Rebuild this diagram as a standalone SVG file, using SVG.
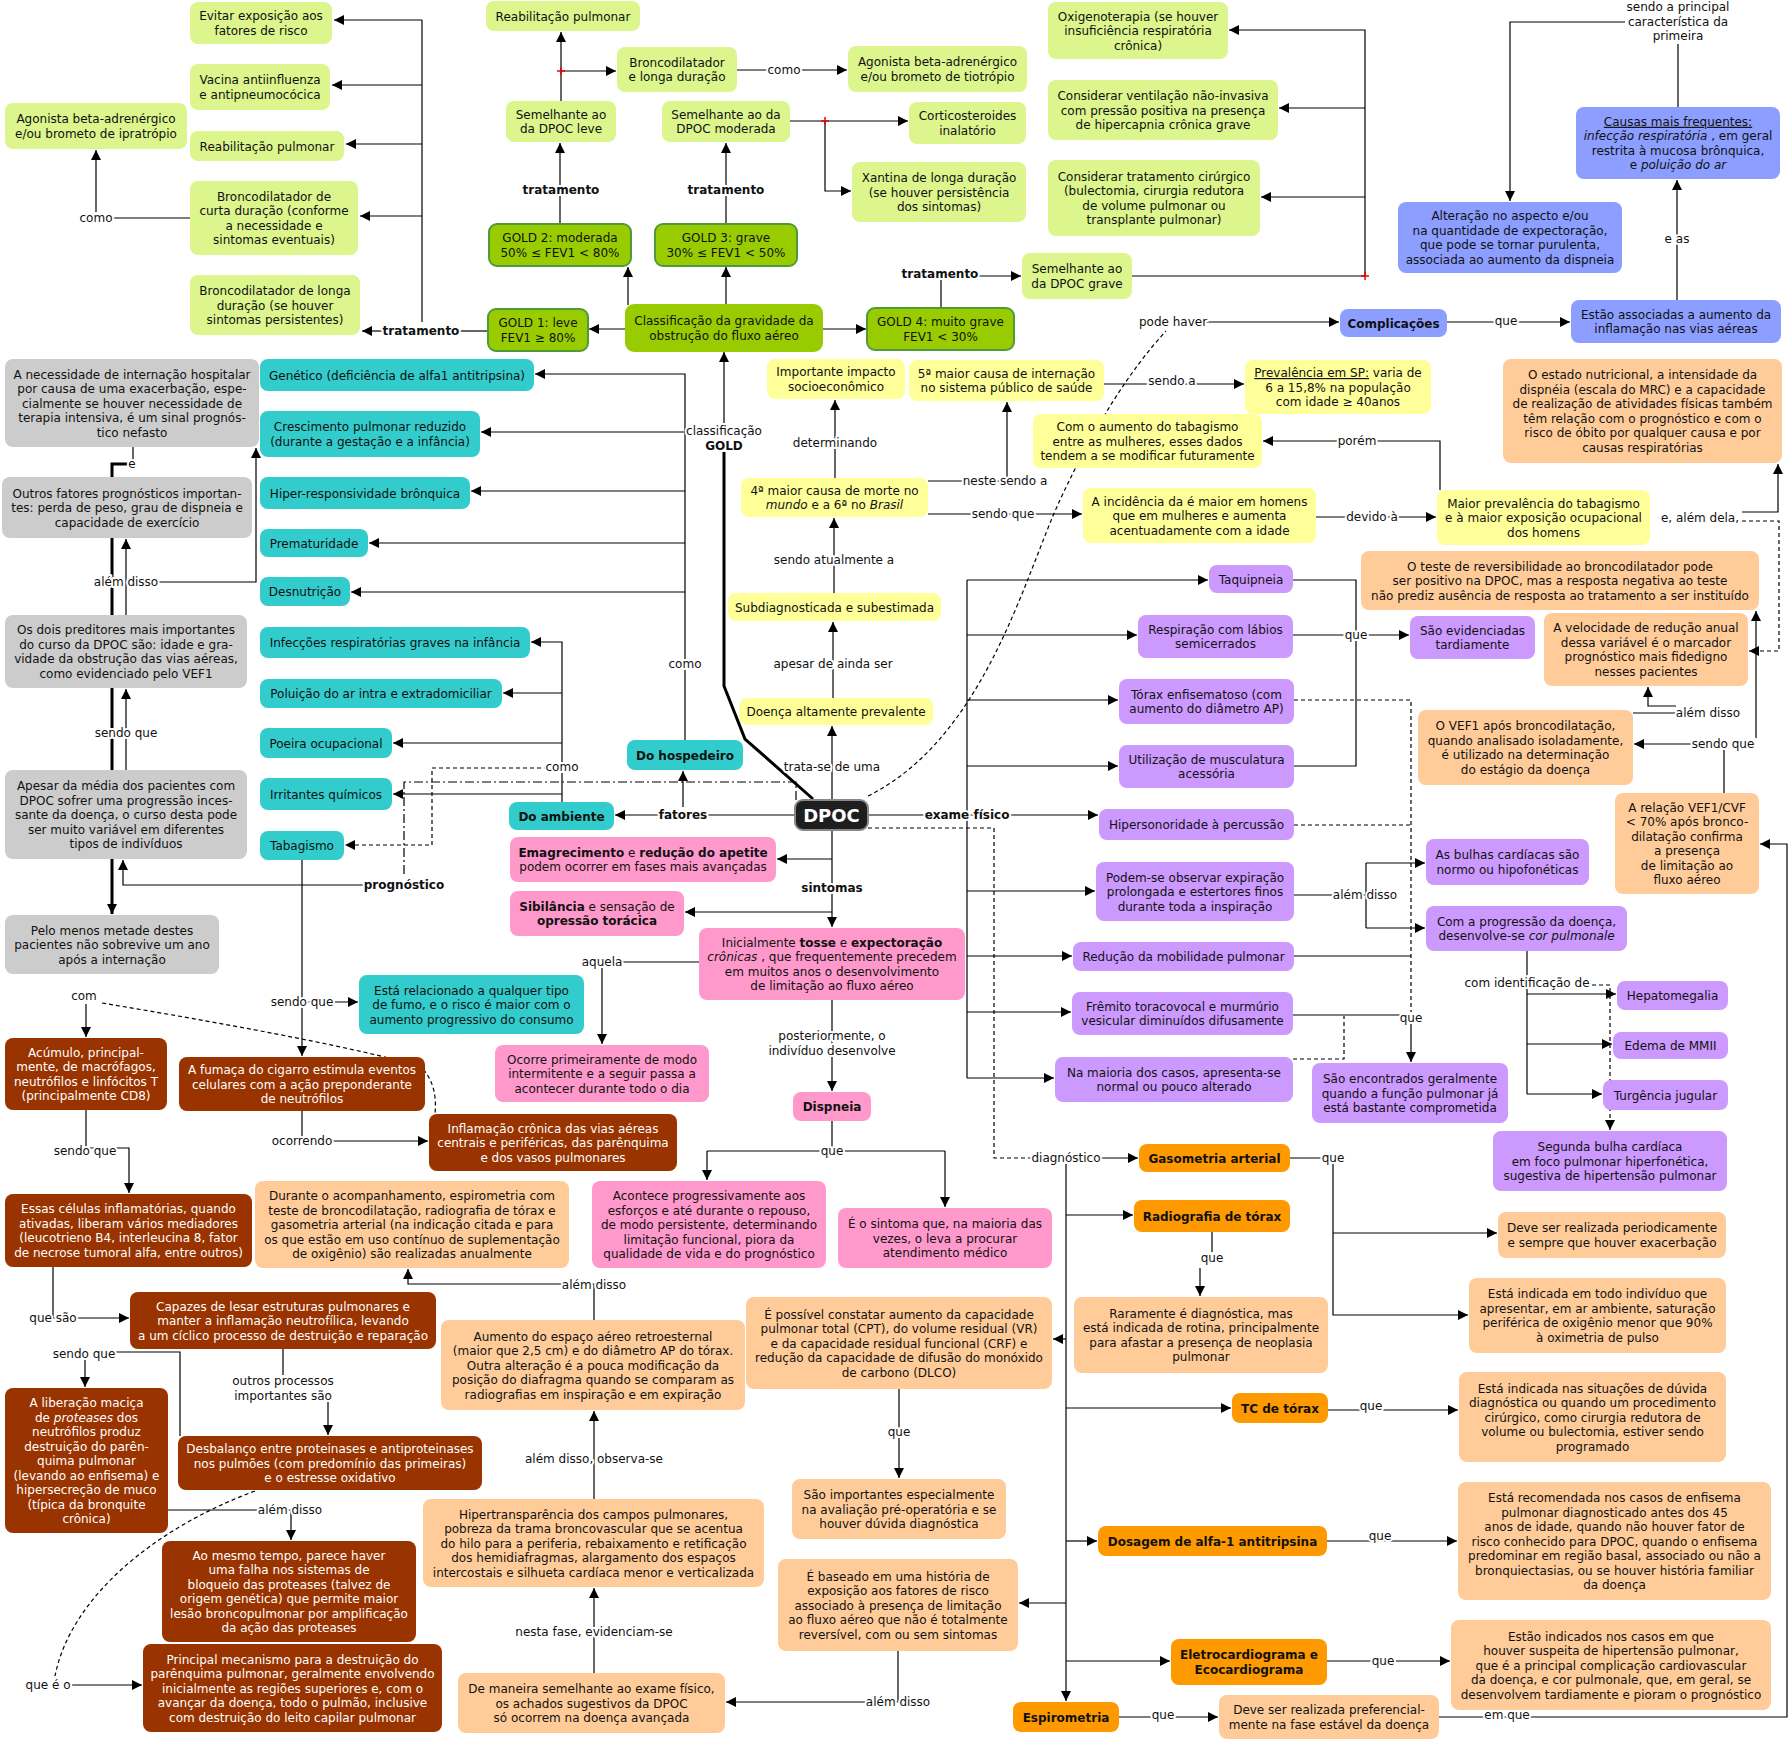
<svg xmlns="http://www.w3.org/2000/svg" width="1790" height="1740" viewBox="0 0 1790 1740">
<style>
.lg{fill:#dcf58c}.dg{fill:#99cc00;stroke:#4e9a3a;stroke-width:2}.tl{fill:#33cccc}.gr{fill:#cccccc}.ye{fill:#ffff99}.pu{fill:#cc99ff}.bl{fill:#8c9eff}.pk{fill:#ff99cc}.pe{fill:#ffcc99}.or{fill:#ff9900}.br{fill:#993300}.dk{fill:#1e1e1e;stroke:#888;stroke-width:2}
.t{font-family:"DejaVu Sans",Verdana,sans-serif;font-size:12px;text-anchor:middle;fill:#111}
.w{fill:#fff}.b{font-weight:bold}.i{font-style:italic}.u{text-decoration:underline}
.lb{font-family:"DejaVu Sans",Verdana,sans-serif;font-size:12px;text-anchor:middle;fill:#111;paint-order:stroke;stroke:#fff;stroke-width:4px;stroke-linejoin:round}
.c path{fill:none;stroke:#000;stroke-width:1.2}
.c .ar{marker-end:url(#a)}
.c .d{stroke-dasharray:4 3}
.c .dd{stroke-dasharray:9 3 2 3}
.c .th{stroke-width:3}
.c .rp{stroke:#e00;stroke-width:1.5}
</style>
<defs>
<marker id="a" markerWidth="11" markerHeight="10" refX="10" refY="5" orient="auto" markerUnits="userSpaceOnUse"><path d="M0,0L10,5L0,10z" fill="#000"/></marker>
</defs>
<rect width="1790" height="1740" fill="#fff"/>
<g id="connectors" class="c">
<path d="M128,464 H112 V914" class="th ar"/>
<path d="M422,20 V322"/>
<path d="M422,20 H334" class="ar"/>
<path d="M422,85 H332" class="ar"/>
<path d="M422,144 H346" class="ar"/>
<path d="M422,216 H360" class="ar"/>
<path d="M383,331 H362" class="ar"/>
<path d="M460,331 H488"/>
<path d="M190,218 H112"/>
<path d="M96,212 V150" class="ar"/>
<path d="M561,101 V32" class="ar"/>
<path d="M561,71 H616" class="ar"/>
<path d="M737,70 H847" class="ar"/>
<path d="M560,224 V143" class="ar"/>
<path d="M726,224 V143" class="ar"/>
<path d="M790,121 H908" class="ar"/>
<path d="M825,121 V191 H851" class="ar"/>
<path d="M628,305 V267" class="ar"/>
<path d="M726,305 V267" class="ar"/>
<path d="M626,329 H589" class="ar"/>
<path d="M822,329 H866" class="ar"/>
<path d="M941,308 V276 H1021" class="ar"/>
<path d="M1132,276 H1365 V30 H1229" class="ar"/>
<path d="M1365,108 H1279" class="ar"/>
<path d="M1365,197 H1261" class="ar"/>
<path d="M557,71 H565 M561,67 V75" class="rp"/>
<path d="M821,121 H829 M825,117 V125" class="rp"/>
<path d="M1361,276 H1369 M1365,272 V280" class="rp"/>
<path d="M724,425 V352" class="ar"/>
<path d="M724,452 V686 L745,739 L813,799" class="th"/>
<path d="M832,800 V726" class="ar"/>
<path d="M833,698 V622" class="ar"/>
<path d="M834,593 V518" class="ar"/>
<path d="M835,478 V400" class="ar"/>
<path d="M928,481 H1007 V402" class="ar"/>
<path d="M928,514 H1082" class="ar"/>
<path d="M1104,384 H1244" class="ar"/>
<path d="M1316,517 H1436" class="ar"/>
<path d="M1440,490 V441 H1263" class="ar"/>
<path d="M1742,512 H1778 V464" class="ar"/>
<path d="M1742,521 H1779 V651 H1749" class="d ar"/>
<path d="M1200,322 H1339" class="ar"/>
<path d="M1447,322 H1570" class="ar"/>
<path d="M1677,300 V180" class="ar"/>
<path d="M1678,107 V44"/>
<path d="M1625,22 H1510 V201" class="ar"/>
<path d="M868,796 C985,738 1025,575 1060,500 S1130,370 1166,331" class="d"/>
<path d="M1633,713 H1680"/>
<path d="M1676,706 H1648 V687" class="ar"/>
<path d="M1724,793 V744 H1634" class="ar"/>
<path d="M1756,738 V611" class="ar"/>
<path d="M1439,1717 H1787 V844 H1760" class="ar"/>
<path d="M868,815 H1098" class="ar"/>
<path d="M967,580 V1078"/>
<path d="M967,580 H1208" class="ar"/>
<path d="M967,635 H1137" class="ar"/>
<path d="M967,700 H1118" class="ar"/>
<path d="M967,766 H1118" class="ar"/>
<path d="M967,891 H1095" class="ar"/>
<path d="M967,956 H1072" class="ar"/>
<path d="M967,1012 H1071" class="ar"/>
<path d="M967,1078 H1054" class="ar"/>
<path d="M1293,580 H1356 V766 H1294"/>
<path d="M1293,635 H1409" class="ar"/>
<path d="M1294,700 H1411 V1012" class="d"/>
<path d="M1294,825 H1411" class="d"/>
<path d="M1294,956 H1411"/>
<path d="M1293,1015 H1411 V1062" class="ar"/>
<path d="M1293,1059 H1344 V1016" class="d"/>
<path d="M1294,895 H1366"/>
<path d="M1366,863 V928"/>
<path d="M1366,863 H1425" class="ar"/>
<path d="M1366,928 H1425" class="ar"/>
<path d="M1527,951 V1094"/>
<path d="M1527,994 H1616" class="ar"/>
<path d="M1527,1044 H1612" class="ar"/>
<path d="M1527,1094 H1602" class="ar"/>
<path d="M1585,985 H1610 V1130" class="d ar"/>
<path d="M795,815 H615" class="ar"/>
<path d="M683,807 V771" class="ar"/>
<path d="M685,740 V374 H535" class="ar"/>
<path d="M685,432 H481" class="ar"/>
<path d="M685,491 H471" class="ar"/>
<path d="M685,543 H369" class="ar"/>
<path d="M685,592 H351" class="ar"/>
<path d="M562,802 V642 H531" class="ar"/>
<path d="M562,693 H503" class="ar"/>
<path d="M562,743 H393" class="ar"/>
<path d="M562,794 H393" class="ar"/>
<path d="M548,768 H432 V845 H345" class="d ar"/>
<path d="M796,800 V782 H404 V876" class="dd"/>
<path d="M366,885 H123 V860" class="ar"/>
<path d="M302,860 V1056" class="ar"/>
<path d="M302,1002 H358" class="ar"/>
<path d="M302,1111 V1141 H428" class="ar"/>
<path d="M102,1003 Q330,1041 420,1066 Q438,1083 435,1114" class="d"/>
<path d="M86,1004 V1037" class="ar"/>
<path d="M86,1110 V1148 H129 V1193" class="ar"/>
<path d="M53,1267 V1318 H129" class="ar"/>
<path d="M85,1360 V1387" class="ar"/>
<path d="M115,1352 H180 V1436"/>
<path d="M283,1349 V1375"/>
<path d="M328,1402 V1435" class="ar"/>
<path d="M168,1510 H291 V1540" class="ar"/>
<path d="M72,1685 H142" class="ar"/>
<path d="M255,1491 C150,1530 70,1600 55,1676" class="d"/>
<path d="M594,1320 V1284 H408 V1269" class="ar"/>
<path d="M594,1499 V1411" class="ar"/>
<path d="M594,1673 V1588" class="ar"/>
<path d="M898,1651 V1702 H726" class="ar"/>
<path d="M133,447 V464"/>
<path d="M126,615 V539" class="ar"/>
<path d="M158,582 H256 V448" class="ar"/>
<path d="M126,770 V689" class="ar"/>
<path d="M832,830 V927" class="ar"/>
<path d="M832,859 H777" class="ar"/>
<path d="M832,912 H685" class="ar"/>
<path d="M699,962 H602 V1044" class="ar"/>
<path d="M832,1000 V1091" class="ar"/>
<path d="M832,1121 V1151"/>
<path d="M707,1151 H945"/>
<path d="M707,1151 V1180" class="ar"/>
<path d="M945,1151 V1207" class="ar"/>
<path d="M868,828 H994 V1158 H1033" class="d"/>
<path d="M1099,1158 H1138" class="ar"/>
<path d="M1066,1164 V1701" class="ar"/>
<path d="M1066,1215 H1133" class="ar"/>
<path d="M1066,1339 H1053" class="ar"/>
<path d="M1066,1408 H1231" class="ar"/>
<path d="M1066,1541 H1097" class="ar"/>
<path d="M1066,1603 H1019" class="ar"/>
<path d="M1066,1661 H1170" class="ar"/>
<path d="M1290,1158 H1333 V1315 H1468" class="ar"/>
<path d="M1333,1233 H1497" class="ar"/>
<path d="M1212,1232 V1252"/>
<path d="M1200,1268 V1296" class="ar"/>
<path d="M899,1389 V1478" class="ar"/>
<path d="M1328,1410 H1458" class="ar"/>
<path d="M1327,1541 H1457" class="ar"/>
<path d="M1327,1661 H1450" class="ar"/>
<path d="M1119,1717 H1218" class="ar"/>
</g>
<g id="labels">
<text class="lb" x="96" y="222">como</text>
<text class="lb b" x="421" y="335">tratamento</text>
<text class="lb" x="784" y="74">como</text>
<text class="lb b" x="561" y="194">tratamento</text>
<text class="lb b" x="726" y="194">tratamento</text>
<text class="lb b" x="940" y="278">tratamento</text>
<text class="lb" x="724" y="435">classificação</text>
<text class="lb b" x="724" y="450">GOLD</text>
<text class="lb" x="835" y="447">determinando</text>
<text class="lb" x="1005" y="485">neste sendo a</text>
<text class="lb" x="1003" y="518">sendo que</text>
<text class="lb" x="834" y="564">sendo atualmente a</text>
<text class="lb" x="833" y="668">apesar de ainda ser</text>
<text class="lb" x="832" y="771">trata-se de uma</text>
<text class="lb" x="1172" y="385">sendo a</text>
<text class="lb" x="1357" y="445">porém</text>
<text class="lb" x="1372" y="521">devido à</text>
<text class="lb" x="1700" y="522">e, além dela,</text>
<text class="lb" x="1173" y="326">pode haver</text>
<text class="lb" x="1506" y="325">que</text>
<text class="lb" x="1677" y="243">e as</text>
<text class="lb" x="1678" y="11">sendo a principal</text>
<text class="lb" x="1678" y="25.5">característica da</text>
<text class="lb" x="1678" y="40">primeira</text>
<text class="lb" x="1708" y="717">além disso</text>
<text class="lb" x="1723" y="748">sendo que</text>
<text class="lb" x="1356" y="639">que</text>
<text class="lb" x="1365" y="899">além disso</text>
<text class="lb" x="1411" y="1022">que</text>
<text class="lb" x="1527" y="987">com identificação de</text>
<text class="lb b" x="967" y="819">exame físico</text>
<text class="lb" x="1066" y="1162">diagnóstico</text>
<text class="lb" x="1333" y="1162">que</text>
<text class="lb" x="1212" y="1262">que</text>
<text class="lb" x="899" y="1436">que</text>
<text class="lb" x="1371" y="1410">que</text>
<text class="lb" x="1380" y="1540">que</text>
<text class="lb" x="1383" y="1665">que</text>
<text class="lb" x="1163" y="1719">que</text>
<text class="lb" x="1507" y="1719">em que</text>
<text class="lb" x="898" y="1706">além disso</text>
<text class="lb b" x="832" y="892">sintomas</text>
<text class="lb" x="602" y="966">aquela</text>
<text class="lb" x="832" y="1040">posteriormente, o</text>
<text class="lb" x="832" y="1054.5">indivíduo desenvolve</text>
<text class="lb" x="832" y="1155">que</text>
<text class="lb b" x="683" y="819">fatores</text>
<text class="lb" x="685" y="668">como</text>
<text class="lb" x="562" y="771">como</text>
<text class="lb b" x="404" y="889">prognóstico</text>
<text class="lb" x="126" y="586">além disso</text>
<text class="lb" x="126" y="737">sendo que</text>
<text class="lb" x="132" y="468">e</text>
<text class="lb" x="302" y="1006">sendo que</text>
<text class="lb" x="302" y="1145">ocorrendo</text>
<text class="lb" x="84" y="1000">com</text>
<text class="lb" x="85" y="1155">sendo que</text>
<text class="lb" x="53" y="1322">que são</text>
<text class="lb" x="84" y="1358">sendo que</text>
<text class="lb" x="283" y="1385">outros processos</text>
<text class="lb" x="283" y="1399.5">importantes são</text>
<text class="lb" x="290" y="1514">além disso</text>
<text class="lb" x="48" y="1689">que é o</text>
<text class="lb" x="594" y="1289">além disso</text>
<text class="lb" x="594" y="1463">além disso, observa-se</text>
<text class="lb" x="594" y="1636">nesta fase, evidenciam-se</text>
</g>
<g id="n_evitar"><rect class="lg" x="190" y="2" width="142" height="42" rx="8"/><text class="t"><tspan x="261" y="20">Evitar exposição aos</tspan><tspan x="261" y="34.5">fatores de risco</tspan></text></g>
<g id="n_vacina"><rect class="lg" x="190" y="64" width="140" height="46" rx="8"/><text class="t"><tspan x="260" y="84.25">Vacina antiinfluenza</tspan><tspan x="260" y="98.75">e antipneumocócica</tspan></text></g>
<g id="n_agon1"><rect class="lg" x="5" y="103" width="182" height="46" rx="8"/><text class="t"><tspan x="96" y="123.25">Agonista beta-adrenérgico</tspan><tspan x="96" y="137.75">e/ou brometo de ipratrópio</tspan></text></g>
<g id="n_reab1"><rect class="lg" x="190" y="131" width="154" height="30" rx="8"/><text class="t"><tspan x="267" y="150.5">Reabilitação pulmonar</tspan></text></g>
<g id="n_bcurta"><rect class="lg" x="190" y="181" width="168" height="74" rx="8"/><text class="t"><tspan x="274" y="200.75">Broncodilatador de</tspan><tspan x="274" y="215.25">curta duração (conforme</tspan><tspan x="274" y="229.75">a necessidade e</tspan><tspan x="274" y="244.25">sintomas eventuais)</tspan></text></g>
<g id="n_blonga"><rect class="lg" x="190" y="275" width="170" height="60" rx="8"/><text class="t"><tspan x="275" y="295">Broncodilatador de longa</tspan><tspan x="275" y="309.5">duração (se houver</tspan><tspan x="275" y="324">sintomas persistentes)</tspan></text></g>
<g id="n_reab2"><rect class="lg" x="486" y="1" width="154" height="30" rx="8"/><text class="t"><tspan x="563" y="20.5">Reabilitação pulmonar</tspan></text></g>
<g id="n_blonga2"><rect class="lg" x="617" y="47" width="120" height="45" rx="8"/><text class="t"><tspan x="677" y="66.75">Broncodilatador</tspan><tspan x="677" y="81.25">e longa duração</tspan></text></g>
<g id="n_agon2"><rect class="lg" x="848" y="46" width="179" height="46" rx="8"/><text class="t"><tspan x="937.5" y="66.25">Agonista beta-adrenérgico</tspan><tspan x="937.5" y="80.75">e/ou brometo de tiotrópio</tspan></text></g>
<g id="n_semleve"><rect class="lg" x="506" y="101" width="110" height="41" rx="8"/><text class="t"><tspan x="561" y="118.75">Semelhante ao</tspan><tspan x="561" y="133.25">da DPOC leve</tspan></text></g>
<g id="n_semmod"><rect class="lg" x="662" y="101" width="128" height="41" rx="8"/><text class="t"><tspan x="726" y="118.75">Semelhante ao da</tspan><tspan x="726" y="133.25">DPOC moderada</tspan></text></g>
<g id="n_cort"><rect class="lg" x="909" y="102" width="117" height="42" rx="8"/><text class="t"><tspan x="967.5" y="120.25">Corticosteroides</tspan><tspan x="967.5" y="134.75">inalatório</tspan></text></g>
<g id="n_xant"><rect class="lg" x="852" y="162" width="174" height="60" rx="8"/><text class="t"><tspan x="939" y="182">Xantina de longa duração</tspan><tspan x="939" y="196.5">(se houver persistência</tspan><tspan x="939" y="211">dos sintomas)</tspan></text></g>
<g id="n_gold2"><rect class="dg" x="489" y="224" width="142" height="42" rx="8"/><text class="t"><tspan x="560" y="242.25">GOLD 2: moderada</tspan><tspan x="560" y="256.75">50% ≤ FEV1 &lt; 80%</tspan></text></g>
<g id="n_gold3"><rect class="dg" x="655" y="224" width="142" height="42" rx="8"/><text class="t"><tspan x="726" y="242.25">GOLD 3: grave</tspan><tspan x="726" y="256.75">30% ≤ FEV1 &lt; 50%</tspan></text></g>
<g id="n_class"><rect class="dg" x="626" y="305" width="196" height="46" rx="8" style="stroke:#99cc00"/><text class="t"><tspan x="724" y="325.25">Classificação da gravidade da</tspan><tspan x="724" y="339.75">obstrução do fluxo aéreo</tspan></text></g>
<g id="n_gold1"><rect class="dg" x="488" y="309" width="100" height="42" rx="8"/><text class="t"><tspan x="538" y="327.25">GOLD 1: leve</tspan><tspan x="538" y="341.75">FEV1 ≥ 80%</tspan></text></g>
<g id="n_gold4"><rect class="dg" x="867" y="308" width="147" height="42" rx="8"/><text class="t"><tspan x="940.5" y="326.25">GOLD 4: muito grave</tspan><tspan x="940.5" y="340.75">FEV1 &lt; 30%</tspan></text></g>
<g id="n_semgrave"><rect class="lg" x="1022" y="253" width="110" height="46" rx="8"/><text class="t"><tspan x="1077" y="273.25">Semelhante ao</tspan><tspan x="1077" y="287.75">da DPOC grave</tspan></text></g>
<g id="n_oxig"><rect class="lg" x="1048" y="2" width="180" height="57" rx="8"/><text class="t"><tspan x="1138" y="20.5">Oxigenoterapia (se houver</tspan><tspan x="1138" y="35">insuficiência respiratória</tspan><tspan x="1138" y="49.5">crônica)</tspan></text></g>
<g id="n_vent"><rect class="lg" x="1048" y="80" width="230" height="60" rx="8"/><text class="t"><tspan x="1163" y="100">Considerar ventilação não-invasiva</tspan><tspan x="1163" y="114.5">com pressão positiva na presença</tspan><tspan x="1163" y="129">de hipercapnia crônica grave</tspan></text></g>
<g id="n_cirur"><rect class="lg" x="1048" y="160" width="212" height="76" rx="8"/><text class="t"><tspan x="1154" y="180.75">Considerar tratamento cirúrgico</tspan><tspan x="1154" y="195.25">(bulectomia, cirurgia redutora</tspan><tspan x="1154" y="209.75">de volume pulmonar ou</tspan><tspan x="1154" y="224.25">transplante pulmonar)</tspan></text></g>
<g id="n_impacto"><rect class="ye" x="767" y="359" width="138" height="40" rx="8"/><text class="t"><tspan x="836" y="376.25">Importante impacto</tspan><tspan x="836" y="390.75">socioeconômico</tspan></text></g>
<g id="n_5a"><rect class="ye" x="909" y="360" width="195" height="41" rx="8"/><text class="t"><tspan x="1006.5" y="377.75">5ª maior causa de internação</tspan><tspan x="1006.5" y="392.25">no sistema público de saúde</tspan></text></g>
<g id="n_preval"><rect class="ye" x="1245" y="360" width="186" height="54" rx="8"/><text class="t"><tspan x="1338" y="377"><tspan class="u">Prevalência em SP:</tspan> varia de</tspan><tspan x="1338" y="391.5">6 a 15,8% na população</tspan><tspan x="1338" y="406">com idade ≥ 40anos</tspan></text></g>
<g id="n_aumento"><rect class="ye" x="1033" y="414" width="229" height="54" rx="8"/><text class="t"><tspan x="1147.5" y="431">Com o aumento do tabagismo</tspan><tspan x="1147.5" y="445.5">entre as mulheres, esses dados</tspan><tspan x="1147.5" y="460">tendem a se modificar futuramente</tspan></text></g>
<g id="n_4a"><rect class="ye" x="741" y="478" width="187" height="39" rx="8"/><text class="t"><tspan x="834.5" y="494.75">4ª maior causa de morte no</tspan><tspan x="834.5" y="509.25"><tspan class="i">mundo</tspan>  e a 6ª no <tspan class="i">Brasil</tspan></tspan></text></g>
<g id="n_incid"><rect class="ye" x="1083" y="488" width="233" height="55" rx="8"/><text class="t"><tspan x="1199.5" y="505.5">A incidência da é maior em homens</tspan><tspan x="1199.5" y="520">que em mulheres e aumenta</tspan><tspan x="1199.5" y="534.5">acentuadamente com a idade</tspan></text></g>
<g id="n_maiorprev"><rect class="ye" x="1437" y="490" width="213" height="55" rx="8"/><text class="t"><tspan x="1543.5" y="507.5">Maior prevalência do tabagismo</tspan><tspan x="1543.5" y="522">e à maior exposição ocupacional</tspan><tspan x="1543.5" y="536.5">dos homens</tspan></text></g>
<g id="n_subdiag"><rect class="ye" x="728" y="593" width="213" height="28" rx="8"/><text class="t"><tspan x="834.5" y="611.5">Subdiagnosticada e subestimada</tspan></text></g>
<g id="n_doenca"><rect class="ye" x="739" y="698" width="194" height="27" rx="8"/><text class="t"><tspan x="836" y="716">Doença altamente prevalente</tspan></text></g>
<g id="n_compl"><rect class="bl" x="1340" y="309" width="107" height="28" rx="8"/><text class="t b"><tspan x="1393.5" y="327.5">Complicações</tspan></text></g>
<g id="n_estao"><rect class="bl" x="1571" y="300" width="210" height="43" rx="8"/><text class="t"><tspan x="1676" y="318.75">Estão associadas a aumento da</tspan><tspan x="1676" y="333.25">inflamação nas vias aéreas</tspan></text></g>
<g id="n_causas"><rect class="bl" x="1576" y="107" width="204" height="72" rx="8"/><text class="t"><tspan x="1678" y="125.75" class="u">Causas mais frequentes:</tspan><tspan x="1678" y="140.25"><tspan class="i">infecção respiratória</tspan> , em geral</tspan><tspan x="1678" y="154.75">restrita à mucosa brônquica,</tspan><tspan x="1678" y="169.25">e <tspan class="i">poluição do ar</tspan></tspan></text></g>
<g id="n_alter"><rect class="bl" x="1398" y="202" width="224" height="71" rx="8"/><text class="t"><tspan x="1510" y="220.25">Alteração no aspecto e/ou</tspan><tspan x="1510" y="234.75">na quantidade de expectoração,</tspan><tspan x="1510" y="249.25">que pode se tornar purulenta,</tspan><tspan x="1510" y="263.75">associada ao aumento da dispneia</tspan></text></g>
<g id="n_nutri"><rect class="pe" x="1503" y="359" width="279" height="104" rx="8"/><text class="t"><tspan x="1642.5" y="379.25">O estado nutricional, a intensidade da</tspan><tspan x="1642.5" y="393.75">dispnéia (escala do MRC) e a capacidade</tspan><tspan x="1642.5" y="408.25">de realização de atividades físicas também</tspan><tspan x="1642.5" y="422.75">têm relação com o prognóstico e com o</tspan><tspan x="1642.5" y="437.25">risco de óbito por qualquer causa e por</tspan><tspan x="1642.5" y="451.75">causas respiratórias</tspan></text></g>
<g id="n_teste"><rect class="pe" x="1361" y="551" width="398" height="59" rx="8"/><text class="t"><tspan x="1560" y="570.5">O teste de reversibilidade ao broncodilatador pode</tspan><tspan x="1560" y="585">ser positivo na DPOC, mas a resposta negativa ao teste</tspan><tspan x="1560" y="599.5">não prediz ausência de resposta ao tratamento a ser instituído</tspan></text></g>
<g id="n_veloc"><rect class="pe" x="1544" y="613" width="204" height="73" rx="8"/><text class="t"><tspan x="1646" y="632.25">A velocidade de redução anual</tspan><tspan x="1646" y="646.75">dessa variável é o marcador</tspan><tspan x="1646" y="661.25">prognóstico mais fidedigno</tspan><tspan x="1646" y="675.75">nesses pacientes</tspan></text></g>
<g id="n_vef1"><rect class="pe" x="1418" y="710" width="215" height="75" rx="8"/><text class="t"><tspan x="1525.5" y="730.25">O VEF1 após broncodilatação,</tspan><tspan x="1525.5" y="744.75">quando analisado isoladamente,</tspan><tspan x="1525.5" y="759.25">é utilizado na determinação</tspan><tspan x="1525.5" y="773.75">do estágio da doença</tspan></text></g>
<g id="n_relacao"><rect class="pe" x="1615" y="793" width="144" height="101" rx="8"/><text class="t"><tspan x="1687" y="811.75">A relação VEF1/CVF</tspan><tspan x="1687" y="826.25">&lt; 70% após bronco-</tspan><tspan x="1687" y="840.75">dilatação confirma</tspan><tspan x="1687" y="855.25">a presença</tspan><tspan x="1687" y="869.75">de limitação ao</tspan><tspan x="1687" y="884.25">fluxo aéreo</tspan></text></g>
<g id="n_taqui"><rect class="pu" x="1209" y="565" width="84" height="28" rx="8"/><text class="t"><tspan x="1251" y="583.5">Taquipneia</tspan></text></g>
<g id="n_resp"><rect class="pu" x="1138" y="615" width="155" height="43" rx="8"/><text class="t"><tspan x="1215.5" y="633.75">Respiração com lábios</tspan><tspan x="1215.5" y="648.25">semicerrados</tspan></text></g>
<g id="n_torax"><rect class="pu" x="1119" y="679" width="175" height="45" rx="8"/><text class="t"><tspan x="1206.5" y="698.75">Tórax enfisematoso (com</tspan><tspan x="1206.5" y="713.25">aumento do diâmetro AP)</tspan></text></g>
<g id="n_util"><rect class="pu" x="1119" y="745" width="175" height="43" rx="8"/><text class="t"><tspan x="1206.5" y="763.75">Utilização de musculatura</tspan><tspan x="1206.5" y="778.25">acessória</tspan></text></g>
<g id="n_hiper"><rect class="pu" x="1099" y="809" width="195" height="31" rx="8"/><text class="t"><tspan x="1196.5" y="829">Hipersonoridade à percussão</tspan></text></g>
<g id="n_podem"><rect class="pu" x="1096" y="862" width="198" height="59" rx="8"/><text class="t"><tspan x="1195" y="881.5">Podem-se observar expiração</tspan><tspan x="1195" y="896">prolongada e estertores finos</tspan><tspan x="1195" y="910.5">durante toda a inspiração</tspan></text></g>
<g id="n_reduc"><rect class="pu" x="1073" y="942" width="221" height="29" rx="8"/><text class="t"><tspan x="1183.5" y="961">Redução da mobilidade pulmonar</tspan></text></g>
<g id="n_fremito"><rect class="pu" x="1072" y="992" width="221" height="43" rx="8"/><text class="t"><tspan x="1182.5" y="1010.75">Frêmito toracovocal e murmúrio</tspan><tspan x="1182.5" y="1025.25">vesicular diminuídos difusamente</tspan></text></g>
<g id="n_namaioria"><rect class="pu" x="1055" y="1057" width="238" height="45" rx="8"/><text class="t"><tspan x="1174" y="1076.75">Na maioria dos casos, apresenta-se</tspan><tspan x="1174" y="1091.25">normal ou pouco alterado</tspan></text></g>
<g id="n_saoevid"><rect class="pu" x="1410" y="616" width="125" height="43" rx="8"/><text class="t"><tspan x="1472.5" y="634.75">São evidenciadas</tspan><tspan x="1472.5" y="649.25">tardiamente</tspan></text></g>
<g id="n_bulhas"><rect class="pu" x="1426" y="839" width="163" height="46" rx="8"/><text class="t"><tspan x="1507.5" y="859.25">As bulhas cardíacas são</tspan><tspan x="1507.5" y="873.75">normo ou hipofonéticas</tspan></text></g>
<g id="n_corpulm"><rect class="pu" x="1426" y="906" width="201" height="45" rx="8"/><text class="t"><tspan x="1526.5" y="925.75">Com a progressão da doença,</tspan><tspan x="1526.5" y="940.25">desenvolve-se <tspan class="i">cor pulmonale</tspan></tspan></text></g>
<g id="n_hepato"><rect class="pu" x="1617" y="981" width="111" height="29" rx="8"/><text class="t"><tspan x="1672.5" y="1000">Hepatomegalia</tspan></text></g>
<g id="n_edema"><rect class="pu" x="1613" y="1032" width="115" height="27" rx="8"/><text class="t"><tspan x="1670.5" y="1050">Edema de MMII</tspan></text></g>
<g id="n_turg"><rect class="pu" x="1603" y="1080" width="125" height="30" rx="8"/><text class="t"><tspan x="1665.5" y="1099.5">Turgência jugular</tspan></text></g>
<g id="n_saoenc"><rect class="pu" x="1312" y="1063" width="196" height="60" rx="8"/><text class="t"><tspan x="1410" y="1083">São encontrados geralmente</tspan><tspan x="1410" y="1097.5">quando a função pulmonar já</tspan><tspan x="1410" y="1112">está bastante comprometida</tspan></text></g>
<g id="n_segunda"><rect class="pu" x="1493" y="1131" width="234" height="60" rx="8"/><text class="t"><tspan x="1610" y="1151">Segunda bulha cardíaca</tspan><tspan x="1610" y="1165.5">em foco pulmonar hiperfonética,</tspan><tspan x="1610" y="1180">sugestiva de hipertensão pulmonar</tspan></text></g>
<g id="n_gaso"><rect class="or" x="1139" y="1144" width="151" height="28" rx="8"/><text class="t b"><tspan x="1214.5" y="1162.5">Gasometria arterial</tspan></text></g>
<g id="n_radio"><rect class="or" x="1134" y="1200" width="156" height="32" rx="8"/><text class="t b"><tspan x="1212" y="1220.5">Radiografia de tórax</tspan></text></g>
<g id="n_tc"><rect class="or" x="1232" y="1393" width="96" height="30" rx="8"/><text class="t b"><tspan x="1280" y="1412.5">TC de tórax</tspan></text></g>
<g id="n_dosagem"><rect class="or" x="1098" y="1526" width="229" height="30" rx="8"/><text class="t b"><tspan x="1212.5" y="1545.5">Dosagem de alfa-1 antitripsina</tspan></text></g>
<g id="n_ecg"><rect class="or" x="1171" y="1639" width="156" height="46" rx="8"/><text class="t b"><tspan x="1249" y="1659.25">Eletrocardiograma e</tspan><tspan x="1249" y="1673.75">Ecocardiograma</tspan></text></g>
<g id="n_espiro"><rect class="or" x="1013" y="1702" width="106" height="30" rx="8"/><text class="t b"><tspan x="1066" y="1721.5">Espirometria</tspan></text></g>
<g id="n_deveperio"><rect class="pe" x="1498" y="1212" width="228" height="46" rx="8"/><text class="t"><tspan x="1612" y="1232.25">Deve ser realizada periodicamente</tspan><tspan x="1612" y="1246.75">e sempre que houver exacerbação</tspan></text></g>
<g id="n_indtodo"><rect class="pe" x="1469" y="1278" width="257" height="75" rx="8"/><text class="t"><tspan x="1597.5" y="1298.25">Está indicada em todo indivíduo que</tspan><tspan x="1597.5" y="1312.75">apresentar, em ar ambiente, saturação</tspan><tspan x="1597.5" y="1327.25">periférica de oxigênio menor que 90%</tspan><tspan x="1597.5" y="1341.75">à oximetria de pulso</tspan></text></g>
<g id="n_indsit"><rect class="pe" x="1459" y="1372" width="267" height="90" rx="8"/><text class="t"><tspan x="1592.5" y="1392.5">Está indicada nas situações de dúvida</tspan><tspan x="1592.5" y="1407">diagnóstica ou quando um procedimento</tspan><tspan x="1592.5" y="1421.5">cirúrgico, como cirurgia redutora de</tspan><tspan x="1592.5" y="1436">volume ou bulectomia, estiver sendo</tspan><tspan x="1592.5" y="1450.5">programado</tspan></text></g>
<g id="n_recom"><rect class="pe" x="1458" y="1482" width="313" height="118" rx="8"/><text class="t"><tspan x="1614.5" y="1502">Está recomendada nos casos de enfisema</tspan><tspan x="1614.5" y="1516.5">pulmonar diagnosticado antes dos 45</tspan><tspan x="1614.5" y="1531">anos de idade, quando não houver fator de</tspan><tspan x="1614.5" y="1545.5">risco conhecido para DPOC, quando o enfisema</tspan><tspan x="1614.5" y="1560">predominar em região basal, associado ou não a</tspan><tspan x="1614.5" y="1574.5">bronquiectasias, ou se houver história familiar</tspan><tspan x="1614.5" y="1589">da doença</tspan></text></g>
<g id="n_indicados"><rect class="pe" x="1451" y="1620" width="320" height="90" rx="8"/><text class="t"><tspan x="1611" y="1640.5">Estão indicados nos casos em que</tspan><tspan x="1611" y="1655">houver suspeita de hipertensão pulmonar,</tspan><tspan x="1611" y="1669.5">que é a principal complicação cardiovascular</tspan><tspan x="1611" y="1684">da doença, e cor pulmonale, que, em geral, se</tspan><tspan x="1611" y="1698.5">desenvolvem tardiamente e pioram o prognóstico</tspan></text></g>
<g id="n_devepref"><rect class="pe" x="1219" y="1695" width="220" height="44" rx="8"/><text class="t"><tspan x="1329" y="1714.25">Deve ser realizada preferencial-</tspan><tspan x="1329" y="1728.75">mente na fase estável da doença</tspan></text></g>
<g id="n_raramente"><rect class="pe" x="1074" y="1297" width="254" height="76" rx="8"/><text class="t"><tspan x="1201" y="1317.75">Raramente é diagnóstica, mas</tspan><tspan x="1201" y="1332.25">está indicada de rotina, principalmente</tspan><tspan x="1201" y="1346.75">para afastar a presença de neoplasia</tspan><tspan x="1201" y="1361.25">pulmonar</tspan></text></g>
<g id="n_epossivel"><rect class="pe" x="746" y="1297" width="306" height="92" rx="8"/><text class="t"><tspan x="899" y="1318.5">É possível constatar aumento da capacidade</tspan><tspan x="899" y="1333">pulmonar total (CPT), do volume residual (VR)</tspan><tspan x="899" y="1347.5">e da capacidade residual funcional (CRF) e</tspan><tspan x="899" y="1362">redução da capacidade de difusão do monóxido</tspan><tspan x="899" y="1376.5">de carbono (DLCO)</tspan></text></g>
<g id="n_saoimport"><rect class="pe" x="792" y="1479" width="214" height="60" rx="8"/><text class="t"><tspan x="899" y="1499">São importantes especialmente</tspan><tspan x="899" y="1513.5">na avaliação pré-operatória e se</tspan><tspan x="899" y="1528">houver dúvida diagnóstica</tspan></text></g>
<g id="n_baseado"><rect class="pe" x="778" y="1559" width="240" height="92" rx="8"/><text class="t"><tspan x="898" y="1580.5">É baseado em uma história de</tspan><tspan x="898" y="1595">exposição aos fatores de risco</tspan><tspan x="898" y="1609.5">associado à presença de limitação</tspan><tspan x="898" y="1624">ao fluxo aéreo que não é totalmente</tspan><tspan x="898" y="1638.5">reversível, com ou sem sintomas</tspan></text></g>
<g id="n_demaneira"><rect class="pe" x="458" y="1673" width="267" height="60" rx="8"/><text class="t"><tspan x="591.5" y="1693">De maneira semelhante ao exame físico,</tspan><tspan x="591.5" y="1707.5">os achados sugestivos da DPOC</tspan><tspan x="591.5" y="1722">só ocorrem na doença avançada</tspan></text></g>
<g id="n_hipertr"><rect class="pe" x="423" y="1499" width="341" height="88" rx="8"/><text class="t"><tspan x="593.5" y="1518.5">Hipertransparência dos campos pulmonares,</tspan><tspan x="593.5" y="1533">pobreza da trama broncovascular que se acentua</tspan><tspan x="593.5" y="1547.5">do hilo para a periferia, rebaixamento e retificação</tspan><tspan x="593.5" y="1562">dos hemidiafragmas, alargamento dos espaços</tspan><tspan x="593.5" y="1576.5">intercostais e silhueta cardíaca menor e verticalizada</tspan></text></g>
<g id="n_aumentoesp"><rect class="pe" x="441" y="1320" width="304" height="90" rx="8"/><text class="t"><tspan x="593" y="1340.5">Aumento do espaço aéreo retroesternal</tspan><tspan x="593" y="1355">(maior que 2,5 cm) e do diâmetro AP do tórax.</tspan><tspan x="593" y="1369.5">Outra alteração é a pouca modificação da</tspan><tspan x="593" y="1384">posição do diafragma quando se comparam as</tspan><tspan x="593" y="1398.5">radiografias em inspiração e em expiração</tspan></text></g>
<g id="n_durante"><rect class="pe" x="255" y="1181" width="314" height="87" rx="8"/><text class="t"><tspan x="412" y="1200">Durante o acompanhamento, espirometria com</tspan><tspan x="412" y="1214.5">teste de broncodilatação, radiografia de tórax e</tspan><tspan x="412" y="1229">gasometria arterial (na indicação citada e para</tspan><tspan x="412" y="1243.5">os que estão em uso contínuo de suplementação</tspan><tspan x="412" y="1258">de oxigênio) são realizadas anualmente</tspan></text></g>
<g id="n_emag"><rect class="pk" x="510" y="837" width="266" height="45" rx="8"/><text class="t"><tspan x="643" y="856.75"><tspan class="b">Emagrecimento</tspan> e <tspan class="b">redução do apetite</tspan></tspan><tspan x="643" y="871.25">podem ocorrer em fases mais avançadas</tspan></text></g>
<g id="n_sibil"><rect class="pk" x="510" y="891" width="174" height="45" rx="8"/><text class="t"><tspan x="597" y="910.75"><tspan class="b">Sibilância</tspan> e sensação de</tspan><tspan x="597" y="925.25" class="b">opressão torácica</tspan></text></g>
<g id="n_inicial"><rect class="pk" x="699" y="928" width="266" height="72" rx="8"/><text class="t"><tspan x="832" y="946.75">Inicialmente <tspan class="b">tosse</tspan> e <tspan class="b">expectoração</tspan></tspan><tspan x="832" y="961.25"><tspan class="i">crônicas</tspan> , que frequentemente precedem</tspan><tspan x="832" y="975.75">em muitos anos o desenvolvimento</tspan><tspan x="832" y="990.25">de limitação ao fluxo aéreo</tspan></text></g>
<g id="n_ocorre"><rect class="pk" x="495" y="1045" width="214" height="57" rx="8"/><text class="t"><tspan x="602" y="1063.5">Ocorre primeiramente de modo</tspan><tspan x="602" y="1078">intermitente e a seguir passa a</tspan><tspan x="602" y="1092.5">acontecer durante todo o dia</tspan></text></g>
<g id="n_dispneia"><rect class="pk" x="793" y="1092" width="78" height="29" rx="8"/><text class="t b"><tspan x="832" y="1111">Dispneia</tspan></text></g>
<g id="n_acontece"><rect class="pk" x="592" y="1181" width="234" height="87" rx="8"/><text class="t"><tspan x="709" y="1200">Acontece progressivamente aos</tspan><tspan x="709" y="1214.5">esforços e até durante o repouso,</tspan><tspan x="709" y="1229">de modo persistente, determinando</tspan><tspan x="709" y="1243.5">limitação funcional, piora da</tspan><tspan x="709" y="1258">qualidade de vida e do prognóstico</tspan></text></g>
<g id="n_esintoma"><rect class="pk" x="838" y="1208" width="214" height="60" rx="8"/><text class="t"><tspan x="945" y="1228">É o sintoma que, na maioria das</tspan><tspan x="945" y="1242.5">vezes, o leva a procurar</tspan><tspan x="945" y="1257">atendimento médico</tspan></text></g>
<g id="n_acumulo"><rect class="br" x="5" y="1038" width="162" height="72" rx="8"/><text class="t w"><tspan x="86" y="1056.75">Acúmulo, principal-</tspan><tspan x="86" y="1071.25">mente, de macrófagos,</tspan><tspan x="86" y="1085.75">neutrófilos e linfócitos T</tspan><tspan x="86" y="1100.25">(principalmente CD8)</tspan></text></g>
<g id="n_fumaca"><rect class="br" x="179" y="1057" width="246" height="54" rx="8"/><text class="t w"><tspan x="302" y="1074">A fumaça do cigarro estimula eventos</tspan><tspan x="302" y="1088.5">celulares com a ação preponderante</tspan><tspan x="302" y="1103">de neutrófilos</tspan></text></g>
<g id="n_inflam"><rect class="br" x="429" y="1114" width="248" height="57" rx="8"/><text class="t w"><tspan x="553" y="1132.5">Inflamação crônica das vias aéreas</tspan><tspan x="553" y="1147">centrais e periféricas, das parênquima</tspan><tspan x="553" y="1161.5">e dos vasos pulmonares</tspan></text></g>
<g id="n_essas"><rect class="br" x="5" y="1194" width="247" height="73" rx="8"/><text class="t w"><tspan x="128.5" y="1213.25">Essas células inflamatórias, quando</tspan><tspan x="128.5" y="1227.75">ativadas, liberam vários mediadores</tspan><tspan x="128.5" y="1242.25">(leucotrieno B4, interleucina 8, fator</tspan><tspan x="128.5" y="1256.75">de necrose tumoral alfa, entre outros)</tspan></text></g>
<g id="n_capazes"><rect class="br" x="130" y="1292" width="306" height="57" rx="8"/><text class="t w"><tspan x="283" y="1310.5">Capazes de lesar estruturas pulmonares e</tspan><tspan x="283" y="1325">manter a inflamação neutrofílica, levando</tspan><tspan x="283" y="1339.5">a um cíclico processo de destruição e reparação</tspan></text></g>
<g id="n_liberacao"><rect class="br" x="5" y="1388" width="163" height="145" rx="8"/><text class="t w"><tspan x="86.5" y="1407">A liberação maciça</tspan><tspan x="86.5" y="1421.5">de <tspan class="i">proteases</tspan> dos</tspan><tspan x="86.5" y="1436">neutrófilos produz</tspan><tspan x="86.5" y="1450.5">destruição do parên-</tspan><tspan x="86.5" y="1465">quima pulmonar</tspan><tspan x="86.5" y="1479.5">(levando ao enfisema) e</tspan><tspan x="86.5" y="1494">hipersecreção de muco</tspan><tspan x="86.5" y="1508.5">(típica da bronquite</tspan><tspan x="86.5" y="1523">crônica)</tspan></text></g>
<g id="n_desbal"><rect class="br" x="178" y="1436" width="304" height="54" rx="8"/><text class="t w"><tspan x="330" y="1453">Desbalanço entre proteinases e antiproteinases</tspan><tspan x="330" y="1467.5">nos pulmões (com predomínio das primeiras)</tspan><tspan x="330" y="1482">e o estresse oxidativo</tspan></text></g>
<g id="n_aomesmo"><rect class="br" x="162" y="1541" width="254" height="101" rx="8"/><text class="t w"><tspan x="289" y="1559.75">Ao mesmo tempo, parece haver</tspan><tspan x="289" y="1574.25">uma falha nos sistemas de</tspan><tspan x="289" y="1588.75">bloqueio das proteases (talvez de</tspan><tspan x="289" y="1603.25">origem genética) que permite maior</tspan><tspan x="289" y="1617.75">lesão broncopulmonar por amplificação</tspan><tspan x="289" y="1632.25">da ação das proteases</tspan></text></g>
<g id="n_principal"><rect class="br" x="143" y="1644" width="299" height="88" rx="8"/><text class="t w"><tspan x="292.5" y="1663.5">Principal mecanismo para a destruição do</tspan><tspan x="292.5" y="1678">parênquima pulmonar, geralmente envolvendo</tspan><tspan x="292.5" y="1692.5">inicialmente as regiões superiores e, com o</tspan><tspan x="292.5" y="1707">avançar da doença, todo o pulmão, inclusive</tspan><tspan x="292.5" y="1721.5">com destruição do leito capilar pulmonar</tspan></text></g>
<g id="n_necess"><rect class="gr" x="5" y="359" width="254" height="88" rx="8"/><text class="t"><tspan x="132" y="378.5">A necessidade de internação hospitalar</tspan><tspan x="132" y="393">por causa de uma exacerbação, espe-</tspan><tspan x="132" y="407.5">cialmente se houver necessidade de</tspan><tspan x="132" y="422">terapia intensiva, é um sinal prognós-</tspan><tspan x="132" y="436.5">tico nefasto</tspan></text></g>
<g id="n_outros"><rect class="gr" x="2" y="477" width="250" height="61" rx="8"/><text class="t"><tspan x="127" y="497.5">Outros fatores prognósticos importan-</tspan><tspan x="127" y="512">tes: perda de peso, grau de dispneia e</tspan><tspan x="127" y="526.5">capacidade de exercício</tspan></text></g>
<g id="n_osdois"><rect class="gr" x="5" y="615" width="242" height="73" rx="8"/><text class="t"><tspan x="126" y="634.25">Os dois preditores mais importantes</tspan><tspan x="126" y="648.75">do curso da DPOC são: idade e gra-</tspan><tspan x="126" y="663.25">vidade da obstrução das vias aéreas,</tspan><tspan x="126" y="677.75">como evidenciado pelo VEF1</tspan></text></g>
<g id="n_apesar"><rect class="gr" x="5" y="770" width="242" height="89" rx="8"/><text class="t"><tspan x="126" y="790">Apesar da média dos pacientes com</tspan><tspan x="126" y="804.5">DPOC sofrer uma progressão inces-</tspan><tspan x="126" y="819">sante da doença, o curso desta pode</tspan><tspan x="126" y="833.5">ser muito variável em diferentes</tspan><tspan x="126" y="848">tipos de indivíduos</tspan></text></g>
<g id="n_pelomenos"><rect class="gr" x="5" y="915" width="214" height="59" rx="8"/><text class="t"><tspan x="112" y="934.5">Pelo menos metade destes</tspan><tspan x="112" y="949">pacientes não sobrevive um ano</tspan><tspan x="112" y="963.5">após a internação</tspan></text></g>
<g id="n_genetico"><rect class="tl" x="260" y="359" width="274" height="32" rx="8"/><text class="t"><tspan x="397" y="379.5">Genético (deficiência de alfa1 antitripsina)</tspan></text></g>
<g id="n_cresc"><rect class="tl" x="260" y="411" width="220" height="46" rx="8"/><text class="t"><tspan x="370" y="431.25">Crescimento pulmonar reduzido</tspan><tspan x="370" y="445.75">(durante a gestação e a infância)</tspan></text></g>
<g id="n_hiperresp"><rect class="tl" x="260" y="477" width="210" height="32" rx="8"/><text class="t"><tspan x="365" y="497.5">Hiper-responsividade brônquica</tspan></text></g>
<g id="n_premat"><rect class="tl" x="260" y="529" width="108" height="28" rx="8"/><text class="t"><tspan x="314" y="547.5">Prematuridade</tspan></text></g>
<g id="n_desnut"><rect class="tl" x="260" y="577" width="90" height="29" rx="8"/><text class="t"><tspan x="305" y="596">Desnutrição</tspan></text></g>
<g id="n_infec"><rect class="tl" x="260" y="627" width="270" height="31" rx="8"/><text class="t"><tspan x="395" y="647">Infecções respiratórias graves na infância</tspan></text></g>
<g id="n_polui"><rect class="tl" x="260" y="679" width="242" height="29" rx="8"/><text class="t"><tspan x="381" y="698">Poluição do ar intra e extradomiciliar</tspan></text></g>
<g id="n_poeira"><rect class="tl" x="260" y="728" width="132" height="30" rx="8"/><text class="t"><tspan x="326" y="747.5">Poeira ocupacional</tspan></text></g>
<g id="n_irrit"><rect class="tl" x="260" y="778" width="132" height="32" rx="8"/><text class="t"><tspan x="326" y="798.5">Irritantes químicos</tspan></text></g>
<g id="n_tabag"><rect class="tl" x="260" y="831" width="84" height="29" rx="8"/><text class="t"><tspan x="302" y="850">Tabagismo</tspan></text></g>
<g id="n_hosp"><rect class="tl" x="627" y="740" width="116" height="30" rx="8"/><text class="t b"><tspan x="685" y="759.5">Do hospedeiro</tspan></text></g>
<g id="n_amb"><rect class="tl" x="509" y="802" width="105" height="28" rx="8"/><text class="t b"><tspan x="561.5" y="820.5">Do ambiente</tspan></text></g>
<g id="n_relac"><rect class="tl" x="359" y="975" width="225" height="59" rx="8"/><text class="t"><tspan x="471.5" y="994.5">Está relacionado a qualquer tipo</tspan><tspan x="471.5" y="1009">de fumo, e o risco é maior com o</tspan><tspan x="471.5" y="1023.5">aumento progressivo do consumo</tspan></text></g>
<g id="n_dpoc"><rect class="dk" x="795" y="800" width="73" height="30" rx="8"/><text class="t b w" style="font-size:18px"><tspan x="831.5" y="821.5">DPOC</tspan></text></g>
</svg>
